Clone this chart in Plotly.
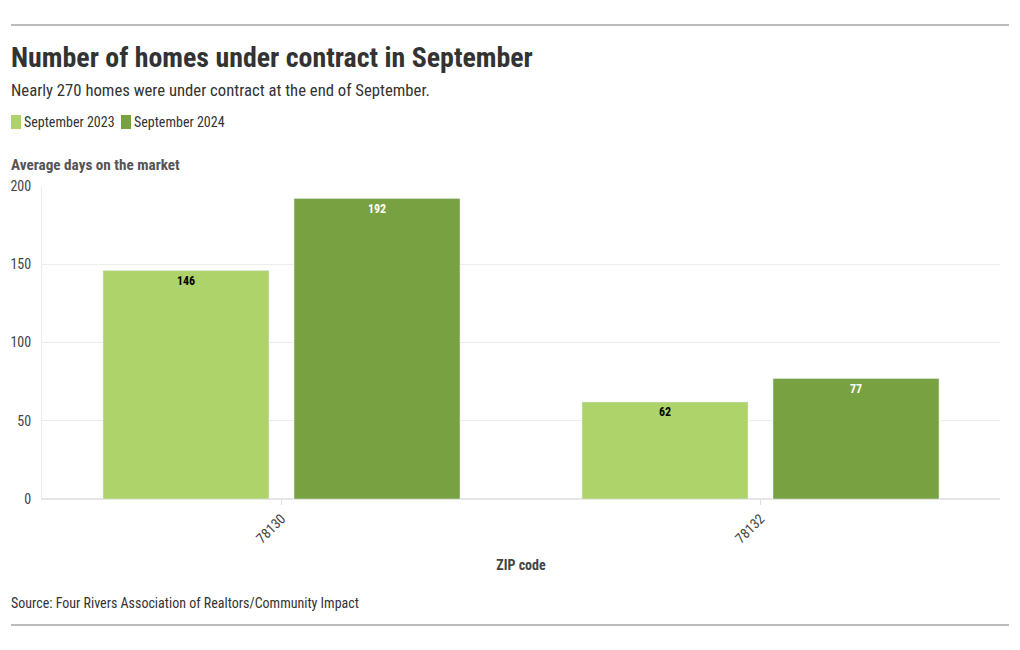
import plotly.graph_objects as go

zips = ["78130", "78132"]
sep2023 = [146, 62]
sep2024 = [192, 77]
series_names = ["September 2023", "September 2024"]
colors = ["#aed36b", "#78a142"]

FONT = "Roboto Condensed, Liberation Sans Narrow, Roboto, sans-serif"
W, H = 1020, 650
L, R, T, B = 42, 1000, 186, 499

def px(x):
    return (x - L) / (R - L)

def py(y):
    return (B - y) / (B - T)

fig = go.Figure()
fig.add_bar(x=zips, y=sep2023, name=series_names[0], marker_color=colors[0],
            text=[str(v) for v in sep2023], textposition="inside", insidetextanchor="end",
            textfont=dict(family=FONT, size=12, color="#000000", weight="bold"),
            textangle=0, showlegend=False)
fig.add_bar(x=zips, y=sep2024, name=series_names[1], marker_color=colors[1],
            text=[str(v) for v in sep2024], textposition="inside", insidetextanchor="end",
            textfont=dict(family=FONT, size=12, color="#ffffff", weight="bold"),
            textangle=0, showlegend=False)

ann = [
    dict(text="<b>Number of homes under contract in September</b>", x=px(9), y=py(57),
         font=dict(size=27.9, color="#333333")),
    dict(text="Nearly 270 homes were under contract at the end of September.", x=px(9), y=py(90),
         font=dict(size=16.7, color="#333333")),
    dict(text="<b>Average days on the market</b>", x=px(9), y=py(165),
         font=dict(size=15.2, color="#555555")),
    dict(text="Source: Four Rivers Association of Realtors/Community Impact", x=px(9), y=py(603),
         font=dict(size=14, color="#333333")),
]
annotations = []
for a in ann:
    annotations.append(dict(xref="paper", yref="paper", xanchor="left", yanchor="middle",
                            showarrow=False, text=a["text"], x=a["x"], y=a["y"],
                            font=dict(family=FONT, **a["font"])))

shapes = []
for yy in (25, 625):
    shapes.append(dict(type="line", xref="paper", yref="paper", x0=px(11), x1=px(1009),
                       y0=py(yy), y1=py(yy), line=dict(color="#777777", width=1)))

# manual legend (compact, like the reference)
legend_x = [11, 121]
for name, col, lx in zip(series_names, colors, legend_x):
    shapes.append(dict(type="rect", xref="paper", yref="paper", x0=px(lx), x1=px(lx + 10),
                       y0=py(129), y1=py(115), fillcolor=col, line=dict(width=0)))
    annotations.append(dict(xref="paper", yref="paper", xanchor="left", yanchor="middle",
                            showarrow=False, text=name, x=px(lx + 11), y=py(122),
                            font=dict(family=FONT, size=14, color="#333333")))

fig.update_layout(
    width=W, height=H,
    margin=dict(l=L, r=W - R, t=T, b=H - B, autoexpand=False),
    paper_bgcolor="white", plot_bgcolor="white",
    font=dict(family=FONT, size=14, color="#333333"),
    barmode="group", bargap=0.2025, bargroupgap=0.131,
    showlegend=False,
    annotations=annotations, shapes=shapes,
)
fig.update_xaxes(
    type="category", tickangle=-45, ticks="outside", ticklen=5, tickcolor="#dddddd",
    tickfont=dict(family=FONT, size=14, color="#444444"),
    showgrid=False, showline=True, linecolor="#e6e6e6",
    title=dict(text="<b>ZIP code</b>", font=dict(family=FONT, size=14, color="#444444"), standoff=14),
)
fig.update_yaxes(
    range=[0, 200], tickvals=[0, 50, 100, 150, 200], showgrid=True, gridcolor="#ececec",
    zeroline=True, zerolinecolor="#e6e6e6", showline=True, linecolor="#ececec",
    ticks="", ticklabelstandoff=7,
    tickfont=dict(family=FONT, size=14, color="#444444"),
)
fig.write_html("out.html", config={"displayModeBar": False},
               post_script="document.body.style.margin='0';document.body.style.overflow='hidden';")
